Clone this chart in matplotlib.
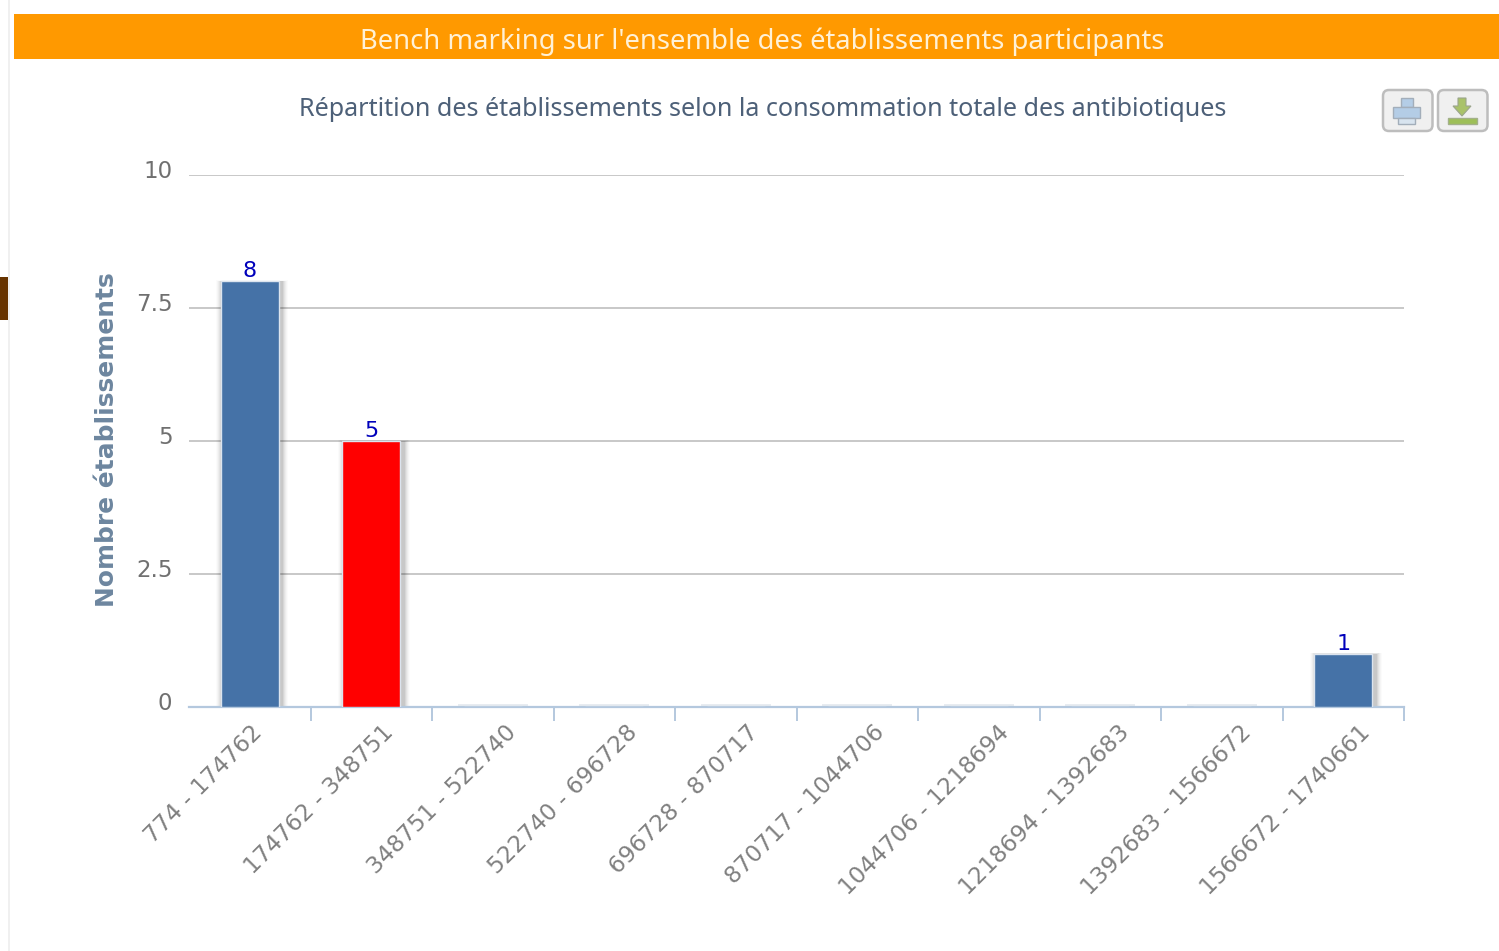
import matplotlib
matplotlib.use("Agg")
import matplotlib.pyplot as plt
from matplotlib.patches import Rectangle, FancyBboxPatch, Polygon
from matplotlib.transforms import ScaledTranslation

categories = ["774 - 174762", "174762 - 348751", "348751 - 522740", "522740 - 696728",
              "696728 - 870717", "870717 - 1044706", "1044706 - 1218694", "1218694 - 1392683",
              "1392683 - 1566672", "1566672 - 1740661"]
counts = [8, 5, 0, 0, 0, 0, 0, 0, 0, 1]
bar_colors = ["#4572A7", "#FF0000", "#4572A7", "#4572A7", "#4572A7",
              "#4572A7", "#4572A7", "#4572A7", "#4572A7", "#4572A7"]
y_ticks = [0, 2.5, 5, 7.5, 10]
y_tick_labels = ["0", "2.5", "5", "7.5", "10"]
banner_title = "Bench marking sur l'ensemble des établissements participants"
chart_title = "Répartition des établissements selon la consommation totale des antibiotiques"
y_label = "Nombre établissements"

W, H = 1499, 951
fig = plt.figure(figsize=(W / 100, H / 100), dpi=100, facecolor="white")

# page furniture in pixel coordinates
bg = fig.add_axes([0, 0, 1, 1], zorder=0)
bg.set_xlim(0, W); bg.set_ylim(H, 0); bg.axis("off")
bg.add_patch(Rectangle((14, 14), W - 14, 45, fc="#FF9900", ec="none"))
bg.add_patch(Rectangle((0, 277), 8, 43, fc="#663300", ec="none"))
bg.plot([9.5, 9.5], [0, H], color="#EEEEEE", lw=1.2)
bg.text(762, 42, banner_title, color="#FFF1D6", fontsize=19.7, fontweight="medium", ha="center", va="center",
        family="Noto Sans")
bg.text(763, 110, chart_title, color="#4D6078", fontsize=18.1, ha="center", va="center",
        family="Noto Sans")
bg.text(107.5, 440, y_label, color="#6D869F", fontsize=17.95, fontweight="bold", rotation=90,
        ha="center", va="center", family="DejaVu Sans")

for x0 in (1383, 1438):
    bg.add_patch(FancyBboxPatch((x0, 90), 49.5, 41, boxstyle="round,pad=0,rounding_size=6",
                                fc="#F0F0F0", ec="#BDBDBD", lw=1.8))
# printer icon
bg.add_patch(Rectangle((1401, 98), 12, 9, fc="#B4CDE6", ec="#A3AEBA", lw=1))
bg.add_patch(Rectangle((1393, 107), 27, 11, fc="#B4CDE6", ec="#A3AEBA", lw=1))
bg.add_patch(Rectangle((1398, 118), 17, 6, fc="#D8E4EF", ec="#A3AEBA", lw=1))
# download icon
bg.add_patch(Polygon([(1458, 98), (1466, 98), (1466, 106), (1471, 106), (1462, 116),
                      (1453, 106), (1458, 106)], fc="#A9C26A", ec="#9BA58C", lw=0.8))
bg.add_patch(Rectangle((1448, 118), 29, 6, fc="#9DBF57", ec="#A3B08A", lw=1))

# chart
left, right, top, bottom = 189, 1404, 175, 707.3
ax = fig.add_axes([left / W, 1 - bottom / H, (right - left) / W, (bottom - top) / H], zorder=1)
ax.patch.set_alpha(0)
x = list(range(len(categories)))
ax.set_xlim(-0.5, len(categories) - 0.5)
ax.set_ylim(0, 10)
ax.set_yticks(y_ticks)
ax.set_yticklabels(y_tick_labels)
ax.grid(axis="y", color="#C8C8C8", lw=1.4)
ax.set_axisbelow(True)
for s in ("top", "left", "right"):
    ax.spines[s].set_visible(False)
ax.spines["bottom"].set_color("#B4C8DE")
ax.spines["bottom"].set_linewidth(1.6)
ax.tick_params(axis="y", length=0, pad=17, labelsize=16.5, labelcolor="#707070")
for lab in ax.get_yticklabels():
    lab.set_transform(lab.get_transform() + ScaledTranslation(7 / 100, 6 / 100, fig.dpi_scale_trans))

# category separators as ticks
ax.set_xticks([i + 0.5 for i in range(len(categories))], minor=True)
ax.tick_params(axis="x", which="minor", length=10, width=1.4, color="#B4C8DE")
ax.set_xticks(x)
ax.set_xticklabels(categories, rotation=45, ha="right", rotation_mode="anchor",
                   fontsize=16.7, color="#808080")
ax.tick_params(axis="x", which="major", length=0, pad=11)
label_shift_px = [1, 11, 12, 12, 11, 16, 19, 18, 18, 15]
for lab, dx in zip(ax.get_xticklabels(), label_shift_px):
    lab.set_transform(lab.get_transform() + ScaledTranslation(dx / 100, 2 / 100, fig.dpi_scale_trans))

# soft shadow behind bars
slot_px = (right - left) / len(categories)
for i, v in enumerate(counts):
    if v > 0:
        for off, a in ((7, 0.02), (6, 0.03), (5, 0.04), (4, 0.05), (3, 0.07), (2, 0.08)):
            ax.bar(i + 2.5 / slot_px, v + off * 0.003, width=0.475 + 2 * off / slot_px,
                   color="black", alpha=a * 0.8, lw=0, zorder=2)
    else:
        ax.bar(i, 0.07, width=0.58, color="#E8ECF1", lw=0, zorder=2)

ax.bar(x, counts, width=0.475, color=bar_colors, edgecolor="#DCE4EE", lw=1.0, zorder=3)
for i, v in enumerate(counts):
    if v > 0:
        ax.annotate(str(v), (i, v), xytext=(0, 0), textcoords="offset points", ha="center", va="bottom",
                    color="#0000BB", fontsize=16, zorder=4)

fig.savefig("out.png", dpi=100)
